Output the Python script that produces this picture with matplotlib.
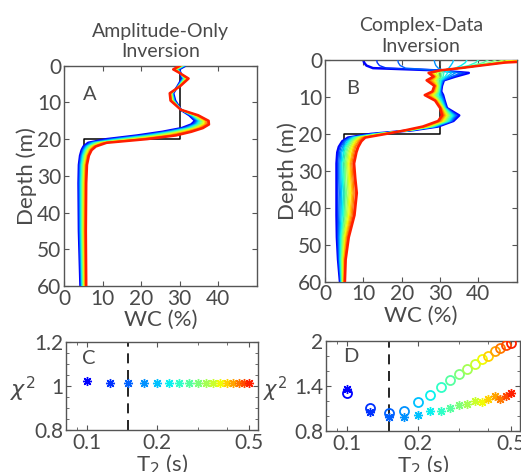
import matplotlib
matplotlib.use("Agg")
import matplotlib.pyplot as plt
from matplotlib.ticker import FixedLocator, MultipleLocator, NullFormatter, LogLocator
import numpy as np

plt.rcParams['font.family'] = ['Lato', 'DejaVu Sans']
plt.rcParams['mathtext.fontset'] = 'dejavusans'

# ---------------- data ----------------
t2 = [0.1, 0.125, 0.15, 0.175, 0.2, 0.225, 0.25, 0.275, 0.3, 0.325,
      0.35, 0.375, 0.4, 0.425, 0.45, 0.475, 0.5]
t2_chosen = 0.15

chi2_amp = [1.02, 1.015, 1.015, 1.013, 1.013, 1.013, 1.013, 1.013, 1.013,
            1.013, 1.013, 1.013, 1.013, 1.013, 1.015, 1.015, 1.015]
chi2_cplx_circle = [1.31, 1.10, 1.04, 1.07, 1.18, 1.28, 1.38, 1.48, 1.56,
                    1.63, 1.69, 1.76, 1.80, 1.86, 1.90, 1.94, 1.97]
chi2_cplx_star = [1.36, 1.05, 0.98, 0.98, 1.01, 1.06, 1.07, 1.10, 1.145,
                  1.16, 1.20, 1.19, 1.22, 1.26, 1.23, 1.27, 1.30]

true_depth = [0, 20, 20, 60]
true_wc = [30, 30, 5, 5]

# Panel A: water content profiles (one list per T2 value)
depth_a = [0, 1, 2, 3.5, 5.5, 7.5, 9.5, 12, 13.5, 15, 16, 17, 18, 19, 20,
           21, 22, 23, 24.5, 27, 32, 45, 60]
a_t0100 = [31.5, 29.8, 30.2, 30.6, 29.5, 28.3, 28.8, 30.3, 32.5, 34.0, 33.0, 30.5, 25.5, 19.0, 11.0, 6.2, 5.0, 4.5, 4.1, 3.8, 3.7, 3.8, 4.2]
a_t0125 = [31.4, 29.7, 30.2, 30.7, 29.5, 28.2, 28.7, 30.3, 32.6, 34.2, 33.3, 30.8, 26.0, 19.6, 11.7, 6.5, 5.2, 4.65, 4.25, 3.9, 3.8, 3.9, 4.3]
a_t0150 = [31.3, 29.6, 30.2, 30.8, 29.6, 28.2, 28.65, 30.3, 32.8, 34.4, 33.6, 31.2, 26.4, 20.25, 12.3, 6.8, 5.4, 4.8, 4.4, 4.05, 3.95, 4.0, 4.4]
a_t0175 = [31.2, 29.5, 30.2, 30.9, 29.6, 28.1, 28.6, 30.3, 32.9, 34.7, 33.9, 31.5, 26.9, 20.9, 13.0, 7.1, 5.6, 5.0, 4.5, 4.2, 4.1, 4.15, 4.5]
a_t0200 = [31.1, 29.4, 30.15, 31.0, 29.7, 28.1, 28.5, 30.3, 33.1, 34.9, 34.15, 31.9, 27.4, 21.5, 13.6, 7.4, 5.8, 5.15, 4.7, 4.3, 4.2, 4.25, 4.6]
a_t0225 = [31.0, 29.3, 30.15, 31.1, 29.7, 28.0, 28.4, 30.3, 33.2, 35.1, 34.4, 32.2, 27.8, 22.1, 14.3, 7.7, 6.0, 5.3, 4.8, 4.45, 4.3, 4.35, 4.7]
a_t0250 = [30.9, 29.2, 30.1, 31.2, 29.8, 27.95, 28.35, 30.3, 33.4, 35.3, 34.7, 32.6, 28.3, 22.75, 14.9, 8.0, 6.2, 5.5, 5.0, 4.6, 4.45, 4.5, 4.75]
a_t0275 = [30.8, 29.1, 30.1, 31.3, 29.8, 27.9, 28.3, 30.3, 33.5, 35.5, 35.0, 32.9, 28.8, 23.4, 15.6, 8.3, 6.4, 5.65, 5.1, 4.7, 4.6, 4.6, 4.85]
a_t0300 = [30.75, 29.05, 30.1, 31.45, 29.85, 27.85, 28.2, 30.3, 33.65, 35.75, 35.3, 33.25, 29.25, 24.0, 16.25, 8.6, 6.6, 5.8, 5.25, 4.85, 4.7, 4.7, 4.95]
a_t0325 = [30.65, 28.95, 30.1, 31.55, 29.9, 27.8, 28.1, 30.3, 33.8, 36.0, 35.6, 33.6, 29.7, 24.6, 16.9, 8.9, 6.8, 5.95, 5.4, 5.0, 4.8, 4.8, 5.05]
a_t0350 = [30.55, 28.85, 30.1, 31.65, 29.95, 27.75, 28.05, 30.3, 33.95, 36.2, 35.9, 33.95, 30.2, 25.25, 17.6, 9.2, 7.0, 6.1, 5.5, 5.1, 4.95, 4.9, 5.15]
a_t0375 = [30.45, 28.75, 30.05, 31.75, 30.0, 27.7, 28.0, 30.3, 34.1, 36.4, 36.2, 34.3, 30.7, 25.9, 18.2, 9.5, 7.2, 6.3, 5.7, 5.25, 5.1, 5.05, 5.25]
a_t0400 = [30.4, 28.7, 30.05, 31.9, 30.0, 27.65, 27.9, 30.3, 34.2, 36.6, 36.45, 34.6, 31.1, 26.5, 18.9, 9.8, 7.4, 6.45, 5.8, 5.4, 5.2, 5.15, 5.3]
a_t0425 = [30.3, 28.6, 30.05, 32.0, 30.1, 27.6, 27.8, 30.3, 34.4, 36.8, 36.7, 35.0, 31.6, 27.1, 19.5, 10.1, 7.6, 6.6, 6.0, 5.5, 5.3, 5.25, 5.4]
a_t0450 = [30.2, 28.5, 30.0, 32.1, 30.1, 27.5, 27.75, 30.3, 34.5, 37.1, 37.0, 35.3, 32.1, 27.75, 20.2, 10.4, 7.8, 6.8, 6.1, 5.65, 5.45, 5.4, 5.5]
a_t0475 = [30.1, 28.4, 30.0, 32.2, 30.2, 27.45, 27.7, 30.3, 34.7, 37.3, 37.3, 35.7, 32.5, 28.4, 20.8, 10.7, 8.0, 6.95, 6.25, 5.75, 5.6, 5.5, 5.6]
a_t0500 = [30.0, 28.3, 30.0, 32.3, 30.2, 27.4, 27.6, 30.3, 34.8, 37.5, 37.6, 36.0, 33.0, 29.0, 21.5, 11.0, 8.2, 7.1, 6.4, 5.9, 5.7, 5.6, 5.7]

# Panel B: water content profiles (one list per T2 value)
depth_b = [0, 0.7, 1.5, 2.2, 2.8, 3.5, 4.5, 5.5, 7, 8.5, 9.5, 11, 13, 15, 16.5,
           18, 19, 20, 21, 22, 23.5, 25, 28, 32, 36, 42, 48, 54, 60]
b_t0100 = [10, 10.2, 10.8, 12.5, 29.0, 37.5, 34.0, 31.0, 30.5, 30.3, 30.8, 31.2, 31.8, 35.0, 33.5, 29.5, 23.0, 12.0, 6.0, 4.5, 3.6, 3.2, 3.0, 3.0, 3.0, 3.0, 3.1, 3.4, 3.9]
b_t0125 = [13.5, 13.6, 14.2, 16.0, 29.5, 36.5, 33.5, 30.9, 30.4, 30.2, 30.6, 31.1, 31.7, 34.6, 33.3, 29.3, 22.9, 12.3, 6.3, 4.8, 3.9, 3.5, 3.3, 3.3, 3.3, 3.3, 3.3, 3.5, 4.0]
b_t0150 = [19.0, 19.1, 19.6, 21.0, 30.0, 35.5, 33.0, 30.8, 30.3, 30.1, 30.4, 31.0, 31.6, 34.2, 33.0, 29.0, 22.8, 12.5, 6.6, 5.1, 4.2, 3.8, 3.6, 3.6, 3.7, 3.6, 3.5, 3.7, 4.1]
b_t0175 = [28.5, 28.6, 28.9, 29.5, 31.0, 34.0, 32.3, 30.6, 30.2, 30.0, 30.2, 30.8, 31.5, 33.9, 32.8, 28.8, 22.6, 12.8, 6.8, 5.4, 4.6, 4.1, 3.9, 3.9, 4.0, 3.9, 3.7, 3.8, 4.2]
b_t0200 = [33.5, 33.3, 32.8, 32.3, 31.3, 33.0, 31.8, 30.4, 30.1, 29.9, 30.0, 30.6, 31.4, 33.6, 32.5, 28.5, 22.5, 13.0, 7.1, 5.8, 4.9, 4.4, 4.2, 4.2, 4.3, 4.2, 3.9, 3.9, 4.2]
b_t0225 = [37.0, 36.6, 35.5, 34.0, 31.3, 32.0, 31.3, 30.2, 30.0, 29.8, 29.7, 30.4, 31.3, 33.3, 32.3, 28.3, 22.4, 13.3, 7.4, 6.1, 5.2, 4.8, 4.4, 4.5, 4.7, 4.5, 4.1, 4.0, 4.3]
b_t0250 = [40.0, 39.3, 37.5, 34.6, 31.0, 31.0, 30.8, 30.0, 29.9, 29.7, 29.4, 30.2, 31.2, 33.0, 32.0, 28.0, 22.3, 13.5, 7.7, 6.4, 5.5, 5.1, 4.7, 4.8, 5.0, 4.8, 4.3, 4.2, 4.4]
b_t0275 = [42.5, 41.3, 38.5, 35.0, 30.8, 30.5, 30.4, 29.7, 29.8, 29.6, 29.1, 30.0, 31.1, 32.7, 31.8, 27.8, 22.1, 13.8, 8.0, 6.7, 5.8, 5.4, 5.0, 5.1, 5.3, 5.1, 4.5, 4.3, 4.5]
b_t0300 = [44.5, 43.0, 39.2, 35.1, 30.6, 30.0, 30.0, 29.4, 29.7, 29.5, 28.8, 29.8, 31.0, 32.4, 31.5, 27.5, 22.0, 14.0, 8.3, 7.0, 6.1, 5.7, 5.3, 5.4, 5.6, 5.3, 4.6, 4.4, 4.5]
b_t0325 = [46.5, 44.5, 39.6, 35.2, 30.5, 29.5, 29.7, 29.1, 29.5, 29.3, 28.5, 29.7, 30.9, 32.2, 31.3, 27.3, 21.9, 14.3, 8.5, 7.3, 6.5, 6.0, 5.6, 5.8, 6.0, 5.6, 4.8, 4.5, 4.6]
b_t0350 = [48.0, 45.5, 39.9, 35.2, 30.4, 29.0, 29.5, 28.8, 29.4, 29.1, 28.2, 29.5, 30.8, 32.0, 31.0, 27.0, 21.8, 14.5, 8.8, 7.6, 6.8, 6.3, 5.9, 6.1, 6.3, 5.9, 5.0, 4.7, 4.7]
b_t0375 = [49.5, 45.5, 40.1, 35.3, 30.3, 28.5, 29.2, 28.5, 29.3, 28.9, 27.9, 29.4, 30.6, 31.7, 30.8, 26.8, 21.6, 14.8, 9.1, 7.9, 7.1, 6.6, 6.2, 6.4, 6.6, 6.2, 5.2, 4.8, 4.8]
b_t0400 = [51.0, 46.0, 40.2, 35.3, 30.2, 28.0, 29.0, 28.2, 29.1, 28.7, 27.6, 29.3, 30.5, 31.5, 30.5, 26.5, 21.5, 15.0, 9.4, 8.2, 7.4, 7.0, 6.5, 6.7, 7.0, 6.5, 5.4, 4.9, 4.8]
b_t0425 = [53.0, 46.3, 40.3, 35.3, 30.1, 27.8, 28.8, 27.8, 29.0, 28.5, 27.2, 29.1, 30.4, 31.2, 30.3, 26.3, 21.4, 15.3, 9.7, 8.6, 7.7, 7.3, 6.7, 7.0, 7.3, 6.8, 5.6, 5.0, 4.9]
b_t0450 = [55.0, 46.5, 40.4, 35.3, 30.1, 27.5, 28.6, 27.4, 28.8, 28.3, 26.8, 29.0, 30.3, 31.0, 30.0, 26.0, 21.3, 15.5, 9.9, 8.9, 8.0, 7.6, 7.0, 7.3, 7.6, 7.1, 5.8, 5.2, 5.0]
b_t0475 = [57.0, 46.7, 40.5, 35.3, 30.0, 27.2, 28.4, 27.0, 28.7, 28.1, 26.4, 28.8, 30.1, 30.8, 29.8, 25.8, 21.1, 15.8, 10.2, 9.2, 8.4, 7.9, 7.3, 7.6, 8.0, 7.4, 6.0, 5.3, 5.1]
b_t0500 = [60.0, 46.9, 40.7, 35.3, 30.0, 27.0, 28.3, 26.5, 28.5, 28.0, 26.0, 28.7, 30.0, 30.5, 29.5, 25.5, 21.0, 16.0, 10.5, 9.5, 8.7, 8.2, 7.6, 7.9, 8.3, 7.7, 6.2, 5.4, 5.2]

profiles_a = [a_t0100, a_t0125, a_t0150, a_t0175, a_t0200, a_t0225, a_t0250,
              a_t0275, a_t0300, a_t0325, a_t0350, a_t0375, a_t0400, a_t0425,
              a_t0450, a_t0475, a_t0500]
profiles_b = [b_t0100, b_t0125, b_t0150, b_t0175, b_t0200, b_t0225, b_t0250,
              b_t0275, b_t0300, b_t0325, b_t0350, b_t0375, b_t0400, b_t0425,
              b_t0450, b_t0475, b_t0500]

# ---------------- style ----------------
TXT = '#4a4a4a'
SPINE = '#555555'
TICK_FS = 15
LABEL_FS = 16
TITLE_FS = 14
LETTER_FS = 14.5
cmap = plt.get_cmap('jet')
n = len(t2)
colors = [cmap(0.125 + 0.75 * i / (n - 1)) for i in range(n)]

fig = plt.figure(figsize=(5.21, 4.72), dpi=100)

def style_axes(ax):
    for s in ax.spines.values():
        s.set_color(SPINE)
        s.set_linewidth(1.0)
    ax.tick_params(which='both', direction='in', top=True, right=True,
                   colors=SPINE, labelcolor=TXT, labelsize=TICK_FS, pad=2)
    ax.tick_params(which='major', length=3.5)
    ax.tick_params(which='minor', length=2.5)

def profile_panel(rect, depth, profiles, title, letter, lx, ly):
    ax = fig.add_axes(rect)
    ax.plot(true_wc, true_depth, color='black', lw=1.1, zorder=1)
    for i, prof in enumerate(profiles):
        lw = 1.8 if i in (0, n - 1) else 1.0
        ax.plot(prof, depth, color=colors[i], lw=lw, zorder=2 + i)
    ax.set_xlim(0, 50)
    ax.set_ylim(60, 0)
    ax.xaxis.set_major_locator(FixedLocator([0, 10, 20, 30, 40]))
    ax.yaxis.set_major_locator(FixedLocator([0, 10, 20, 30, 40, 50, 60]))
    style_axes(ax)
    ax.set_xlabel('WC (%)', color=TXT, fontsize=LABEL_FS, labelpad=1)
    ax.set_ylabel('Depth (m)', color=TXT, fontsize=LABEL_FS, labelpad=0)
    ax.set_title(title, color=TXT, fontsize=TITLE_FS, pad=6, linespacing=1.25)
    ax.text(lx, ly, letter, transform=ax.transAxes, color=TXT,
            fontsize=LETTER_FS, ha='left', va='center')
    return ax

axA = profile_panel([0.1234, 0.3941, 0.3693, 0.4667], depth_a, profiles_a,
                    'Amplitude-Only\nInversion', 'A', 0.095, 0.867)
axB = profile_panel([0.6238, 0.4032, 0.3680, 0.4697], depth_b, profiles_b,
                    'Complex-Data\nInversion', 'B', 0.11, 0.87)

def chi_panel(rect, letter, lx, ly):
    ax = fig.add_axes(rect)
    ax.set_xscale('log')
    ax.set_xlim(0.081, 0.546)
    ax.xaxis.set_major_locator(FixedLocator([0.1, 0.2, 0.5]))
    ax.set_xticklabels(['0.1', '0.2', '0.5'])
    ax.xaxis.set_minor_locator(LogLocator(base=10, subs=np.arange(2, 10) * 0.1 * 10, numticks=10))
    ax.xaxis.set_minor_formatter(NullFormatter())
    ax.axvline(t2_chosen, color='black', lw=1.2, ls=(0, (6, 4)), zorder=1)
    style_axes(ax)
    ax.set_xlabel('T$_2$ (s)', color=TXT, fontsize=LABEL_FS, labelpad=0)
    ax.text(lx, ly, letter, transform=ax.transAxes, color=TXT,
            fontsize=LETTER_FS, ha='left', va='center')
    return ax

axC = chi_panel([0.1267, 0.0890, 0.3685, 0.1871], 'C', 0.083, 0.815)
axC.set_ylim(0.8, 1.2)
axC.yaxis.set_major_locator(FixedLocator([0.8, 1.0, 1.2]))
axC.set_yticklabels(['0.8', '1', '1.2'])
axC.yaxis.set_minor_locator(MultipleLocator(0.05))
axC.text(-0.225, 0.46, r'$\chi^2$', transform=axC.transAxes, color=TXT,
         fontsize=LABEL_FS, ha='center', va='center')
for i in range(n):
    axC.plot(t2[i], chi2_amp[i], marker=(8, 2, 0), ms=6.5, mew=1.0,
             color=colors[i], ls='none', zorder=3)

axD = chi_panel([0.6257, 0.0869, 0.3724, 0.1913], 'D', 0.088, 0.83)
axD.set_ylim(0.8, 2.0)
axD.yaxis.set_major_locator(FixedLocator([0.8, 1.4, 2.0]))
axD.set_yticklabels(['0.8', '1.4', '2'])
axD.yaxis.set_minor_locator(MultipleLocator(0.2))
axD.text(-0.265, 0.46, r'$\chi^2$', transform=axD.transAxes, color=TXT,
         fontsize=LABEL_FS - 1, ha='center', va='center')
for i in range(n):
    axD.plot(t2[i], chi2_cplx_circle[i], marker='o', ms=6.5, mew=1.3,
             mfc='none', mec=colors[i], ls='none', zorder=3)
    axD.plot(t2[i], chi2_cplx_star[i], marker=(8, 2, 0), ms=6.5, mew=1.0,
             color=colors[i], ls='none', zorder=3)

fig.savefig('out.png', dpi=100)
